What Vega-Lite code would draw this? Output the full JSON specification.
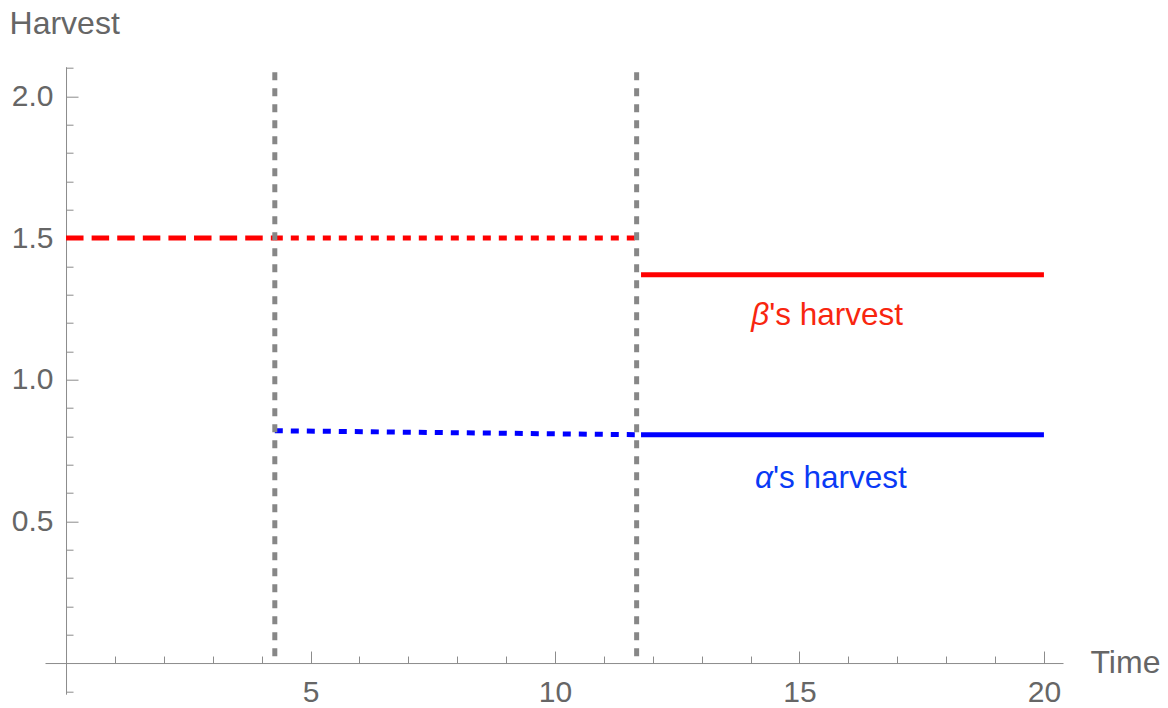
{
  "$schema": "https://vega.github.io/schema/vega-lite/v6.json",
  "width": 1018,
  "height": 627.5,
  "autosize": {"type": "none"},
  "padding": {"left": 45, "top": 66.7, "right": 105, "bottom": 13.8},
  "background": "white",
  "config": {
    "view": {"stroke": null},
    "font": "Liberation Sans",
    "axis": {
      "grid": false,
      "domainColor": "#8c8c8c",
      "tickColor": "#8c8c8c",
      "domainWidth": 1,
      "tickWidth": 1,
      "labelColor": "#666666",
      "titleColor": "#666666",
      "labelFont": "Liberation Sans",
      "titleFont": "Liberation Sans",
      "labelFontSize": 30,
      "titleFontSize": 32,
      "titleFontWeight": "normal"
    }
  },
  "datasets": {
    "lines": [
      {"who": "beta", "seg": "b1", "style": "dashed", "time": 0, "harvest": 1.5},
      {"who": "beta", "seg": "b1", "style": "dashed", "time": 4.27, "harvest": 1.5},
      {"who": "beta", "seg": "b2", "style": "dotted", "time": 4.27, "harvest": 1.5},
      {"who": "beta", "seg": "b2", "style": "dotted", "time": 11.67, "harvest": 1.5},
      {"who": "beta", "seg": "b3", "style": "solid", "time": 11.76, "harvest": 1.371},
      {"who": "beta", "seg": "b3", "style": "solid", "time": 20, "harvest": 1.371},
      {"who": "alpha", "seg": "a2", "style": "dotted", "time": 4.27, "harvest": 0.82},
      {"who": "alpha", "seg": "a2", "style": "dotted", "time": 11.67, "harvest": 0.806},
      {"who": "alpha", "seg": "a3", "style": "solid", "time": 11.76, "harvest": 0.806},
      {"who": "alpha", "seg": "a3", "style": "solid", "time": 20, "harvest": 0.806}
    ],
    "switches": [
      {"time": 4.27, "lo": 0, "hi": 2.085},
      {"time": 11.67, "lo": 0, "hi": 2.085}
    ],
    "labels": [
      {"who": "beta", "part": "sym", "txt": "β", "time": 14.38, "harvest": 1.194},
      {"who": "beta", "part": "rest", "txt": "'s harvest", "time": 14.38, "harvest": 1.194},
      {"who": "alpha", "part": "sym", "txt": "α", "time": 14.46, "harvest": 0.619},
      {"who": "alpha", "part": "rest", "txt": "'s harvest", "time": 14.46, "harvest": 0.619}
    ]
  },
  "layer": [
    {
      "data": {"name": "lines"},
      "mark": {"type": "line", "strokeWidth": 5, "strokeCap": "butt"},
      "encoding": {
        "x": {
          "field": "time", "type": "quantitative",
          "scale": {"domain": [-0.43, 20.39], "nice": false, "zero": false},
          "axis": {
            "orient": "bottom", "offset": -31.16, "values": [5, 10, 15, 20],
            "tickSize": -12, "labelPadding": 26.5, "labelFlush": false, "labelOverlap": false,
            "title": "Time", "titleAngle": 0, "titleAlign": "left", "titleBaseline": "alphabetic",
            "titleX": 1045, "titleY": 9.5
          }
        },
        "y": {
          "field": "harvest", "type": "quantitative",
          "scale": {"domain": [-0.11, 2.105], "nice": false, "zero": false},
          "axis": {
            "orient": "left", "offset": -21.02, "values": [0.5, 1, 1.5, 2], "format": ".1f",
            "tickSize": -12, "labelPadding": 25, "labelFlush": false, "labelOverlap": false,
            "title": "Harvest", "titleAngle": 0, "titleAlign": "left", "titleBaseline": "alphabetic",
            "titleX": -57, "titleY": -33.5
          }
        },
        "color": {
          "field": "who", "type": "nominal",
          "scale": {"domain": ["alpha", "beta"], "range": ["#0000ff", "#ff0000"]},
          "legend": null
        },
        "strokeDash": {
          "field": "style", "type": "nominal",
          "scale": {"domain": ["dashed", "dotted", "solid"], "range": [[17.5, 8.1], [8, 8], [1, 0]]},
          "legend": null
        },
        "detail": {"field": "seg", "type": "nominal"}
      }
    },
    {
      "data": {"name": "switches"},
      "mark": {"type": "rule", "color": "#878787", "strokeWidth": 5, "strokeDash": [8, 8], "strokeCap": "butt"},
      "encoding": {
        "x": {
          "field": "time", "type": "quantitative",
          "axis": {
            "orient": "bottom", "offset": -31.16,
            "values": [1, 2, 3, 4, 6, 7, 8, 9, 11, 12, 13, 14, 16, 17, 18, 19],
            "tickSize": -7, "labels": false, "domain": false, "title": null
          }
        },
        "y": {
          "field": "hi", "type": "quantitative",
          "axis": {
            "orient": "left", "offset": -21.02,
            "values": [-0.1, 0.1, 0.2, 0.3, 0.4, 0.6, 0.7, 0.8, 0.9, 1.1, 1.2, 1.3, 1.4, 1.6, 1.7, 1.8, 1.9, 2.1],
            "tickSize": -7, "labels": false, "domain": false, "title": null
          }
        },
        "y2": {"field": "lo"}
      }
    },
    {
      "data": {"name": "labels"},
      "transform": [{"filter": "datum.part === 'sym'"}],
      "mark": {"type": "text", "fontSize": 31.5, "font": "Liberation Sans", "fontStyle": "italic", "align": "right", "baseline": "alphabetic"},
      "encoding": {
        "x": {"field": "time", "type": "quantitative", "axis": null},
        "y": {"field": "harvest", "type": "quantitative", "axis": null},
        "text": {"field": "txt"},
        "color": {"condition": {"test": "datum.who === 'beta'", "value": "#f8260f"}, "value": "#0a3af5"}
      }
    },
    {
      "data": {"name": "labels"},
      "transform": [{"filter": "datum.part === 'rest'"}],
      "mark": {"type": "text", "fontSize": 31.5, "font": "Liberation Sans", "align": "left", "baseline": "alphabetic"},
      "encoding": {
        "x": {"field": "time", "type": "quantitative", "axis": null},
        "y": {"field": "harvest", "type": "quantitative", "axis": null},
        "text": {"field": "txt"},
        "color": {"condition": {"test": "datum.who === 'beta'", "value": "#f8260f"}, "value": "#0a3af5"}
      }
    }
  ],
  "resolve": {"axis": {"x": "independent", "y": "independent"}}
}
